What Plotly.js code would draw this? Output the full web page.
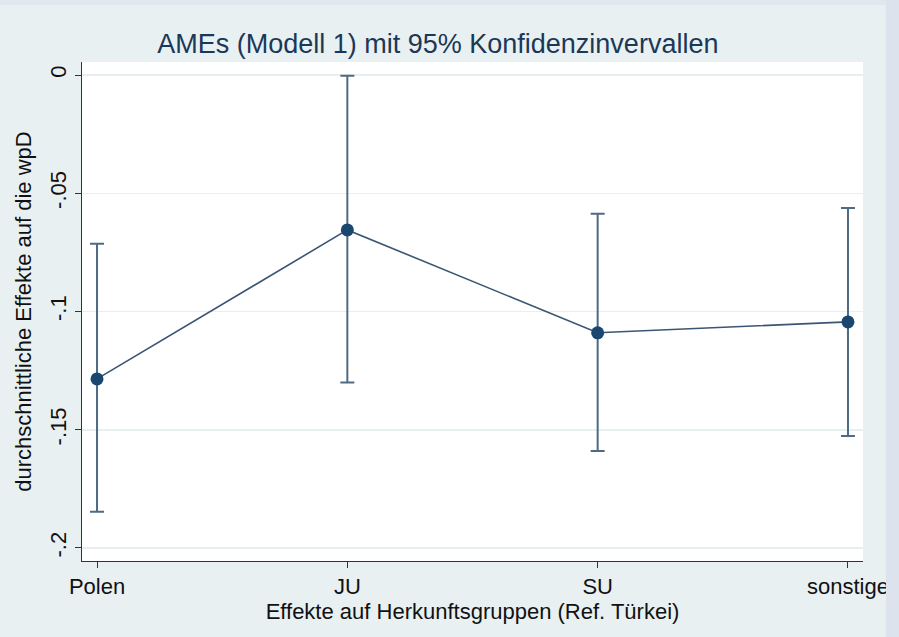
<!DOCTYPE html>
<html>
<head>
<meta charset="utf-8">
<script src="https://cdn.plot.ly/plotly-3.0.1.min.js"></script>
<style>html,body{margin:0;padding:0;background:#e9f0f2;}#chart{width:899px;height:637px;}</style>
</head>
<body>
<div id="chart"></div>
<script>
// Data
const categories = ["Polen", "JU", "SU", "sonstige"];
const ame = [-0.1285, -0.0655, -0.109, -0.1044];
const ciUpper = [-0.0714, -0.0003, -0.0587, -0.0562];
const ciLower = [-0.1847, -0.130, -0.159, -0.1526];
const yTickVals = [0, -0.05, -0.1, -0.15, -0.2];
const yTickText = ["0", "-.05", "-.1", "-.15", "-.2"];

const xIdx = categories.map((c, i) => i);
const errPlus = ame.map((v, i) => ciUpper[i] - v);
const errMinus = ame.map((v, i) => v - ciLower[i]);

const traces = [
  {
    x: xIdx, y: ame, type: "scatter", mode: "lines",
    line: {color: "#3a5672", width: 1.6},
    hoverinfo: "skip", showlegend: false
  },
  {
    x: xIdx, y: ame, type: "scatter", mode: "markers",
    marker: {color: "#1a476f", size: 13},
    error_y: {type: "data", symmetric: false, array: errPlus, arrayminus: errMinus,
              color: "#506a84", thickness: 2, width: 7},
    showlegend: false
  }
];

const font = "'Liberation Sans', Arial, Helvetica, sans-serif";

const layout = {
  width: 899, height: 637,
  paper_bgcolor: "#e9f0f2",
  plot_bgcolor: "#ffffff",
  margin: {l: 82, r: 36, t: 62, b: 76},
  font: {family: font, color: "#000000"},
  title: {text: "AMEs (Modell 1) mit 95% Konfidenzinvervallen",
          font: {family: font, size: 27, color: "#1a3858"},
          x: 0.487, xref: "container", xanchor: "center",
          y: 0.932, yref: "container", yanchor: "middle"},
  xaxis: {
    range: [-0.06, 3.06],
    tickvals: xIdx, ticktext: categories,
    ticks: "outside", ticklen: 6, tickcolor: "#333333", tickwidth: 1,
    showline: true, linecolor: "#333333", linewidth: 1,
    showgrid: false, zeroline: false,
    tickfont: {size: 22, color: "#111111"},
    title: {text: "Effekte auf Herkunftsgruppen (Ref. Türkei)", font: {size: 22, color: "#111111"}, standoff: 2}
  },
  yaxis: {
    range: [-0.2055, 0.0055],
    tickvals: yTickVals, ticktext: yTickText, tickangle: -90,
    ticks: "outside", ticklen: 6, tickcolor: "#333333", tickwidth: 1,
    showline: true, linecolor: "#333333", linewidth: 1,
    showgrid: true, gridcolor: "#e8eff0", gridwidth: 1.5, zeroline: false,
    tickfont: {size: 22, color: "#111111"},
    title: {text: "durchschnittliche Effekte auf die wpD", font: {size: 22, color: "#111111"}, standoff: 8}
  },
  shapes: [
    {type: "rect", xref: "paper", yref: "paper", x0: -0.2, x1: 1.1, y0: 1.114, y1: 1.3,
     fillcolor: "#e0e7ee", line: {width: 0}, layer: "below"},
    {type: "rect", xref: "paper", yref: "paper", x0: 1.0294, x1: 1.1, y0: -0.3, y1: 1.3,
     fillcolor: "#dce3ec", line: {width: 0}, layer: "above"}
  ]
};

Plotly.newPlot("chart", traces, layout, {displayModeBar: false, staticPlot: true});
</script>
</body>
</html>
